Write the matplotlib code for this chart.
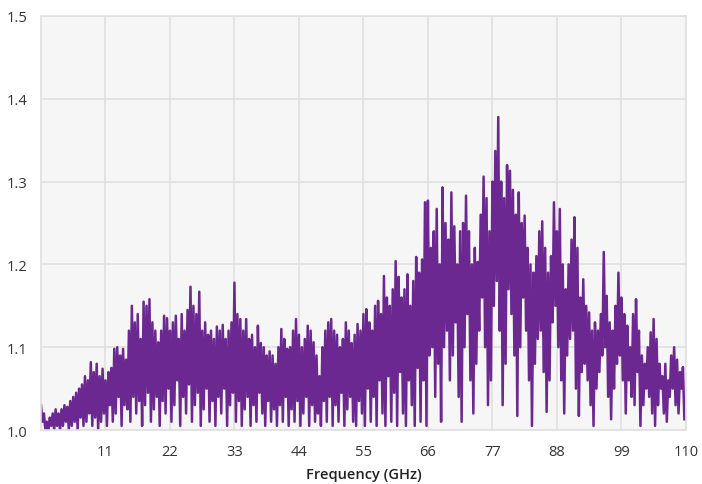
import numpy as np
import matplotlib.pyplot as plt

plt.rcParams['font.family'] = ['Open Sans', 'DejaVu Sans']
plt.rcParams['font.size'] = 10

# peak values, one every 0.5 GHz starting at 0 GHz
hi = [1.03, 1.02, 1.01, 1.015, 1.02, 1.025, 1.02, 1.025, 1.03, 1.028,
      1.035, 1.04, 1.045, 1.05, 1.055, 1.065, 1.06, 1.082, 1.07, 1.08,
      1.065, 1.074, 1.06, 1.07, 1.075, 1.098, 1.1, 1.09, 1.098, 1.085,
      1.12, 1.15, 1.13, 1.14, 1.11, 1.155, 1.15, 1.158, 1.13, 1.12,
      1.106, 1.12, 1.138, 1.135, 1.12, 1.13, 1.138, 1.11, 1.14, 1.12,
      1.145, 1.173, 1.15, 1.14, 1.167, 1.12, 1.13, 1.115, 1.12, 1.11,
      1.125, 1.12, 1.127, 1.11, 1.12, 1.13, 1.178, 1.14, 1.134, 1.12,
      1.134, 1.11, 1.115, 1.1, 1.126, 1.105, 1.1, 1.09, 1.095, 1.09,
      1.08, 1.1, 1.122, 1.11, 1.098, 1.1, 1.12, 1.134, 1.115, 1.1,
      1.11, 1.126, 1.12, 1.106, 1.09, 1.065, 1.1, 1.12, 1.13, 1.134,
      1.12, 1.115, 1.1, 1.11, 1.13, 1.12, 1.105, 1.115, 1.128, 1.12,
      1.14, 1.146, 1.13, 1.12, 1.15, 1.156, 1.14, 1.186, 1.16, 1.15,
      1.17, 1.204, 1.185, 1.16, 1.17, 1.188, 1.15, 1.18, 1.209, 1.19,
      1.206, 1.275, 1.277, 1.22, 1.24, 1.267, 1.2, 1.293, 1.25, 1.23,
      1.287, 1.246, 1.2, 1.24, 1.25, 1.283, 1.24, 1.2, 1.22, 1.203,
      1.26, 1.306, 1.28, 1.24, 1.3, 1.337, 1.378, 1.3, 1.28, 1.32,
      1.313, 1.29, 1.26, 1.287, 1.25, 1.259, 1.22, 1.2, 1.19, 1.21,
      1.24, 1.252, 1.22, 1.19, 1.21, 1.275, 1.24, 1.267, 1.2, 1.17,
      1.2, 1.23, 1.257, 1.22, 1.16, 1.182, 1.15, 1.142, 1.12, 1.13,
      1.12, 1.14, 1.215, 1.162, 1.13, 1.12, 1.15, 1.19, 1.16, 1.14,
      1.126, 1.1, 1.14, 1.158, 1.12, 1.09, 1.08, 1.1, 1.118, 1.134,
      1.11, 1.08, 1.065, 1.08, 1.06, 1.09, 1.1, 1.085, 1.07, 1.076]

# trough values, one every 0.5 GHz starting at 0.25 GHz
lo = [1.01, 1.0, 1.0, 1.005, 1.0, 1.005, 1.0, 1.005, 1.01, 1.0,
      1.005, 1.01, 1.0, 1.015, 1.005, 1.01, 1.02, 1.005, 1.015, 1.0,
      1.01, 1.02, 1.005, 1.03, 1.01, 1.02, 1.04, 1.005, 1.03, 1.025,
      1.01, 1.04, 1.02, 1.035, 1.005, 1.03, 1.045, 1.01, 1.025, 1.04,
      1.005, 1.035, 1.02, 1.05, 1.01, 1.03, 1.06, 1.005, 1.04, 1.02,
      1.055, 1.01, 1.03, 1.045, 1.005, 1.025, 1.05, 1.01, 1.035, 1.005,
      1.04, 1.02, 1.05, 1.005, 1.03, 1.045, 1.01, 1.035, 1.005, 1.025,
      1.04, 1.005, 1.03, 1.01, 1.045, 1.02, 1.005, 1.035, 1.01, 1.025,
      1.005, 1.03, 1.01, 1.04, 1.005, 1.025, 1.01, 1.035, 1.005, 1.02,
      1.04, 1.005, 1.03, 1.01, 1.02, 1.005, 1.035, 1.01, 1.04, 1.005,
      1.03, 1.01, 1.045, 1.005, 1.025, 1.04, 1.01, 1.005, 1.035, 1.02,
      1.005, 1.05, 1.01, 1.04, 1.005, 1.06, 1.02, 1.005, 1.065, 1.01,
      1.045, 1.005, 1.07, 1.02, 1.005, 1.06, 1.03, 1.005, 1.075, 1.01,
      1.06, 1.005, 1.09, 1.1, 1.04, 1.08, 1.01, 1.1, 1.12, 1.06,
      1.09, 1.13, 1.04, 1.01, 1.1, 1.14, 1.06, 1.02, 1.08, 1.12,
      1.16, 1.1, 1.03, 1.06, 1.15, 1.18, 1.12, 1.03, 1.08, 1.17,
      1.14, 1.09, 1.017, 1.1, 1.16, 1.12, 1.06, 1.005, 1.08, 1.11,
      1.12, 1.07, 1.022, 1.06, 1.13, 1.15, 1.1, 1.06, 1.02, 1.09,
      1.11, 1.12, 1.05, 1.017, 1.07, 1.08, 1.06, 1.03, 1.005, 1.05,
      1.07, 1.09, 1.1, 1.04, 1.013, 1.05, 1.08, 1.09, 1.06, 1.02,
      1.06, 1.04, 1.03, 1.07, 1.005, 1.03, 1.05, 1.04, 1.02, 1.005,
      1.03, 1.05, 1.02, 1.01, 1.04, 1.05, 1.03, 1.02, 1.05, 1.013]

xticks = [11, 22, 33, 44, 55, 66, 77, 88, 99, 110]
yticks = [1.0, 1.1, 1.2, 1.3, 1.4, 1.5]

# interleave peaks and troughs
f_hi = np.arange(len(hi)) * 0.5
f_lo = f_hi + 0.25
freq = np.empty(2 * len(hi))
vswr = np.empty(2 * len(hi))
freq[0::2] = f_hi
freq[1::2] = f_lo
vswr[0::2] = hi
vswr[1::2] = lo

fig = plt.figure(figsize=(7.02, 4.85), dpi=100)
ax = fig.add_axes([0.0584, 0.1113, 0.9186, 0.8537])
ax.set_facecolor('#f6f6f6')
ax.plot(freq, vswr, color='#6b2891', lw=1.8, solid_joinstyle='round')

ax.set_xlim(0, 110)
ax.set_ylim(1.0, 1.5)
ax.set_xticks(xticks)
ax.set_yticks(yticks)
ax.set_yticklabels(['%.1f' % v for v in yticks])
ax.grid(True, color='#e0e0e0', lw=1.2)
ax.set_axisbelow(True)
for s in ax.spines.values():
    s.set_color('#e0e0e0')
    s.set_linewidth(1.2)
ax.tick_params(length=0, pad=10, colors='#333333', labelsize=10.5)
ax.set_xlabel('Frequency (GHz)', fontsize=10.5, fontweight='semibold', color='#222222', labelpad=6)

fig.savefig('out.png', dpi=100)
